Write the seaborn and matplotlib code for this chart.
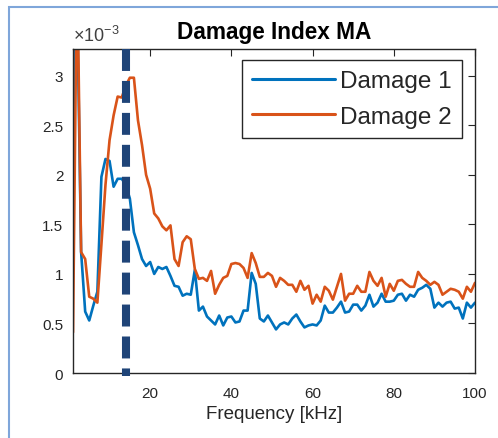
import numpy as np
import pandas as pd
import matplotlib
matplotlib.use("Agg")
import matplotlib.pyplot as plt
from matplotlib.patches import Rectangle
from matplotlib.ticker import FuncFormatter
import seaborn as sns

# ---------------- data (values in units of 1e-3) ----------------
freq_khz = list(range(1, 101))
damage1 = [2.53, 3.80, 1.22, 0.62, 0.53, 0.68, 0.82, 1.98, 2.16, 2.14,
           1.88, 1.96, 1.96, 1.90, 1.76, 1.42, 1.29, 1.15, 1.08, 1.12,
           1.00, 1.07, 1.05, 1.07, 0.98, 0.88, 0.87, 0.78, 0.80, 0.79,
           1.04, 0.63, 0.67, 0.57, 0.53, 0.49, 0.58, 0.48, 0.56, 0.57,
           0.51, 0.52, 0.63, 0.63, 1.01, 0.90, 0.55, 0.52, 0.58, 0.51,
           0.44, 0.49, 0.51, 0.49, 0.55, 0.59, 0.52, 0.46, 0.48, 0.49,
           0.48, 0.53, 0.68, 0.61, 0.61, 0.66, 0.72, 0.61, 0.62, 0.69,
           0.69, 0.63, 0.68, 0.79, 0.67, 0.71, 0.80, 0.72, 0.72, 0.73,
           0.79, 0.80, 0.73, 0.79, 0.77, 0.84, 0.86, 0.89, 0.85, 0.66,
           0.71, 0.67, 0.71, 0.72, 0.65, 0.66, 0.55, 0.71, 0.66, 0.71]
damage2 = [0.41, 4.20, 1.22, 1.15, 0.77, 0.75, 0.71, 1.30, 1.90, 2.35,
           2.60, 2.79, 2.78, 2.90, 2.98, 2.98, 2.55, 2.30, 2.00, 1.86,
           1.61, 1.56, 1.48, 1.44, 1.49, 1.15, 1.08, 1.32, 1.38, 1.35,
           1.05, 0.95, 0.96, 0.93, 1.03, 0.80, 0.89, 0.96, 0.98, 1.10,
           1.11, 1.10, 1.06, 0.96, 1.21, 1.11, 0.97, 0.97, 1.01, 0.98,
           0.87, 0.96, 0.93, 0.89, 0.89, 0.82, 0.93, 0.84, 0.88, 0.70,
           0.79, 0.72, 0.87, 0.83, 0.74, 0.87, 1.00, 0.73, 0.80, 0.80,
           0.88, 0.82, 0.82, 1.02, 0.93, 0.88, 0.96, 0.77, 0.90, 0.83,
           0.93, 0.94, 0.90, 0.87, 0.87, 1.02, 0.96, 0.93, 0.89, 0.92,
           0.89, 0.79, 0.82, 0.85, 0.84, 0.82, 0.75, 0.87, 0.82, 0.91]
series_names = ["Damage 1", "Damage 2"]
marker_freq = 14.0
x_ticks = [20, 40, 60, 80, 100]
y_ticks = [0, 0.5, 1, 1.5, 2, 2.5, 3]

# ---------------- style ----------------
sns.set_style("white")
plt.rcParams["font.family"] = ["Liberation Sans", "DejaVu Sans"]
plt.rcParams["mathtext.fontset"] = "custom"
plt.rcParams["mathtext.rm"] = "Liberation Sans"
plt.rcParams["mathtext.it"] = "Liberation Sans:italic"
plt.rcParams["mathtext.bf"] = "Liberation Sans:bold"

BLUE = "#0072BD"
ORANGE = "#D95319"
NAVY = "#1F4478"
DARK = "#262626"

df = pd.DataFrame({
    "freq": freq_khz * 2,
    "value": damage1 + damage2,
    "series": [series_names[0]] * len(damage1) + [series_names[1]] * len(damage2),
})

fig = plt.figure(figsize=(4.98, 4.39), dpi=100)
ax = fig.add_axes([73 / 498, 1 - 374 / 439, (475 - 73) / 498, (374 - 50) / 439])

sns.lineplot(data=df, x="freq", y="value", hue="series",
             palette=[BLUE, ORANGE], linewidth=1.9, estimator=None,
             ax=ax)

ax.set_xlim(1, 100)
ax.set_ylim(0, 3.27)

# vertical dashed marker, drawn from top downwards
lw_d = 5.8
ax.plot([marker_freq, marker_freq], [3.27, -0.03], color=NAVY, linewidth=lw_d,
        linestyle=(0, (15.8 / lw_d, 7.2 / lw_d)), solid_capstyle="butt",
        dash_capstyle="butt", clip_on=False, zorder=5)

ax.set_xticks(x_ticks)
ax.set_yticks(y_ticks)
ax.yaxis.set_major_formatter(FuncFormatter(lambda v, p: f"{v:g}"))
ax.tick_params(direction="in", length=5, width=0.8, top=True, right=True,
               color=DARK, labelcolor=DARK, labelsize=11)
ax.tick_params(axis="x", pad=9)
ax.tick_params(axis="y", pad=7)
for s in ax.spines.values():
    s.set_color(DARK)
    s.set_linewidth(1.0)

ax.set_xlabel("Frequency [kHz]", fontsize=13.5, color=DARK, labelpad=4)
ax.set_ylabel("")
ax.set_title("Damage Index MA", fontsize=16.3, fontweight="bold", color="black", pad=8)

ax.annotate(r"$\times\mathregular{10^{-3}}$", xy=(0, 1), xycoords="axes fraction",
            xytext=(0, 3), textcoords="offset points", fontsize=13,
            color="#404040", ha="left", va="bottom")

handles, labels = ax.get_legend_handles_labels()
leg = ax.legend(handles, labels, loc="upper right",
                bbox_to_anchor=((462 - 73) / 402, (374 - 61) / 324),
                borderaxespad=0, fontsize=17.5, handlelength=3.4,
                handletextpad=0.22, labelspacing=0.55, borderpad=0.42,
                frameon=True, fancybox=False, framealpha=1)
leg.get_frame().set_edgecolor(DARK)
leg.get_frame().set_linewidth(1.0)
for t in leg.get_texts():
    t.set_color(DARK)
for h in leg.get_lines():
    h.set_linewidth(2.2)

fig.add_artist(Rectangle((9 / 498, -0.1), 1.2, (1 - 8 / 439) + 0.1,
                         transform=fig.transFigure, fill=False,
                         edgecolor="#7FA6DA", linewidth=1.5))

fig.savefig("out.png", dpi=100)
